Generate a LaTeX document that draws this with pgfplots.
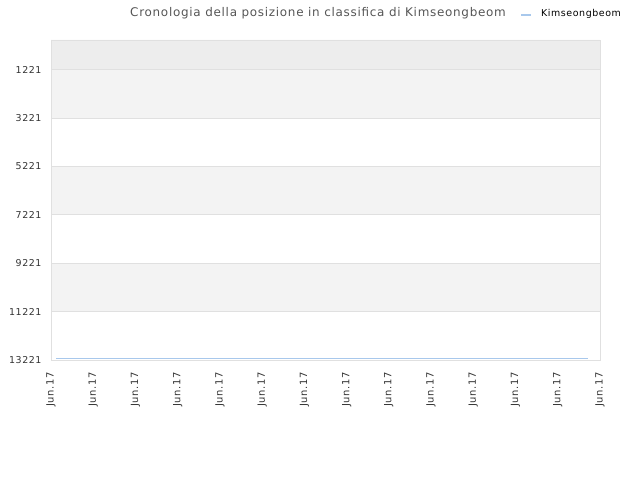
\documentclass[border=0pt]{standalone}
\usepackage{pgfplots}
\pgfplotsset{compat=1.18}
\usepackage{fontspec}
\setmainfont{DejaVu Sans}[LetterSpace=6]

\definecolor{gridc}{HTML}{E0E0E0}
\definecolor{bandA}{HTML}{EDEDED}
\definecolor{bandB}{HTML}{F3F3F3}
\definecolor{linec}{HTML}{A8C8EC}
\definecolor{titlec}{HTML}{555555}
\definecolor{tickc}{HTML}{333333}

\begin{document}
\begin{tikzpicture}
  \begin{axis}[
      at={(51bp,120bp)}, anchor=south west,
      scale only axis,
      width=549bp, height=320bp,
      xmin=0, xmax=13,
      ymin=0, ymax=13221,
      y dir=reverse,
      set layers,
      axis line style={draw=gridc, line width=0.75bp},
      tick style={draw=none},
      scaled y ticks=false,
      ytick={1221,3221,5221,7221,9221,11221,13221},
      yticklabels={1221,3221,5221,7221,9221,11221,13221},
      ymajorgrids,
      major grid style={draw=gridc, line width=0.75bp},
      xtick={0,...,13},
      xticklabels={Jun.17,Jun.17,Jun.17,Jun.17,Jun.17,Jun.17,Jun.17,Jun.17,Jun.17,Jun.17,Jun.17,Jun.17,Jun.17,Jun.17},
      xticklabel shift=9bp,
      yticklabel shift=6bp,
      x tick label style={rotate=90, anchor=east, font=\fontsize{10}{11}\selectfont, text=tickc},
      y tick label style={font=\fontsize{9.5}{10}\selectfont, text=tickc},
      /pgf/number format/assume math mode=true,
      clip=false,
    ]
    \addplot[on layer=axis background, draw=none, fill=bandA] coordinates {(0,0) (13,0) (13,1221) (0,1221)} \closedcycle;
    \addplot[on layer=axis background, draw=none, fill=bandB] coordinates {(0,1221) (13,1221) (13,3221) (0,3221)} \closedcycle;
    \addplot[on layer=axis background, draw=none, fill=bandB] coordinates {(0,5221) (13,5221) (13,7221) (0,7221)} \closedcycle;
    \addplot[on layer=axis background, draw=none, fill=bandB] coordinates {(0,9221) (13,9221) (13,11221) (0,11221)} \closedcycle;
    \addplot[linec, line width=1.2bp] coordinates {
      (0.12,13160) (1,13160) (2,13160) (3,13160) (4,13160) (5,13160)
      (6,13160) (7,13160) (8,13160) (9,13160) (10,13160) (11,13160)
      (12,13160) (12.72,13160)
    };
  \end{axis}
  \node[font=\fontsize{12}{14}\selectfont, text=titlec, inner sep=0pt] at (318bp,467bp) {Cronologia della posizione in classifica di Kimseongbeom};
  \draw[linec, line width=1.5bp] (521bp,465bp) -- (531bp,465bp);
  \node[anchor=west, font=\fontsize{9.5}{11}\selectfont, inner sep=0pt] at (541bp,466bp) {Kimseongbeom};
  \path (0bp,0bp) rectangle (640bp,480bp);
\end{tikzpicture}
\end{document}
